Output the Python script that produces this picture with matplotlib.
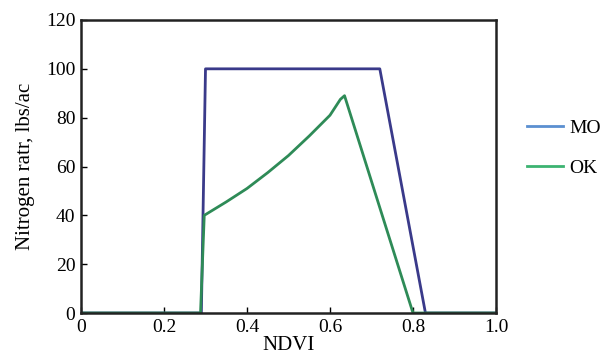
import matplotlib
matplotlib.use("Agg")
import matplotlib.pyplot as plt
from matplotlib.lines import Line2D

plt.rcParams['font.family'] = ['Liberation Serif', 'DejaVu Serif']

mo_x = [0.0, 0.29, 0.30, 0.72, 0.83, 1.0]
mo_y = [0, 0, 100, 100, 0, 0]

ok_x = [0.0, 0.288, 0.297, 0.35, 0.40, 0.45, 0.50, 0.55, 0.60, 0.625, 0.635, 0.80, 1.0]
ok_y = [0, 0, 40, 45.5, 51, 57.5, 64.5, 72.5, 81, 87.5, 89, 0, 0]

xticks = [0, 0.2, 0.4, 0.6, 0.8, 1.0]
xticklabels = ['0', '0.2', '0.4', '0.6', '0.8', '1.0']
yticks = [0, 20, 40, 60, 80, 100, 120]

mo_color = '#3a3a8a'
ok_color = '#2e8b57'
mo_leg = '#5b8fd0'
ok_leg = '#3cb371'

fig = plt.figure(figsize=(6.15, 3.58), dpi=100)
ax = fig.add_axes([81/615, 1 - 313/358, 415/615, 293/358])
ax.plot(mo_x, mo_y, color=mo_color, lw=2.0, solid_joinstyle='round')
ax.plot(ok_x, ok_y, color=ok_color, lw=2.0, solid_joinstyle='round')
ax.set_xlim(0, 1.0)
ax.set_ylim(0, 120)
ax.set_xticks(xticks)
ax.set_xticklabels(xticklabels)
ax.set_yticks(yticks)
ax.tick_params(direction='in', labelsize=14, length=4, width=1, pad=4)
for s in ax.spines.values():
    s.set_linewidth(1.8)
    s.set_color('#222222')
ax.set_xlabel('NDVI', fontsize=15, labelpad=0)
ax.set_ylabel('Nitrogen ratr, lbs/ac', fontsize=15, labelpad=8)

handles = [Line2D([], [], color=mo_leg, lw=2), Line2D([], [], color=ok_leg, lw=2)]
fig.legend(handles, ['MO', 'OK'], loc='center left', bbox_to_anchor=(509/615, 1 - 148/358),
           frameon=False, fontsize=14, handlelength=1.9, handletextpad=0.3, labelspacing=1.15)

fig.savefig('out.png', dpi=100)
